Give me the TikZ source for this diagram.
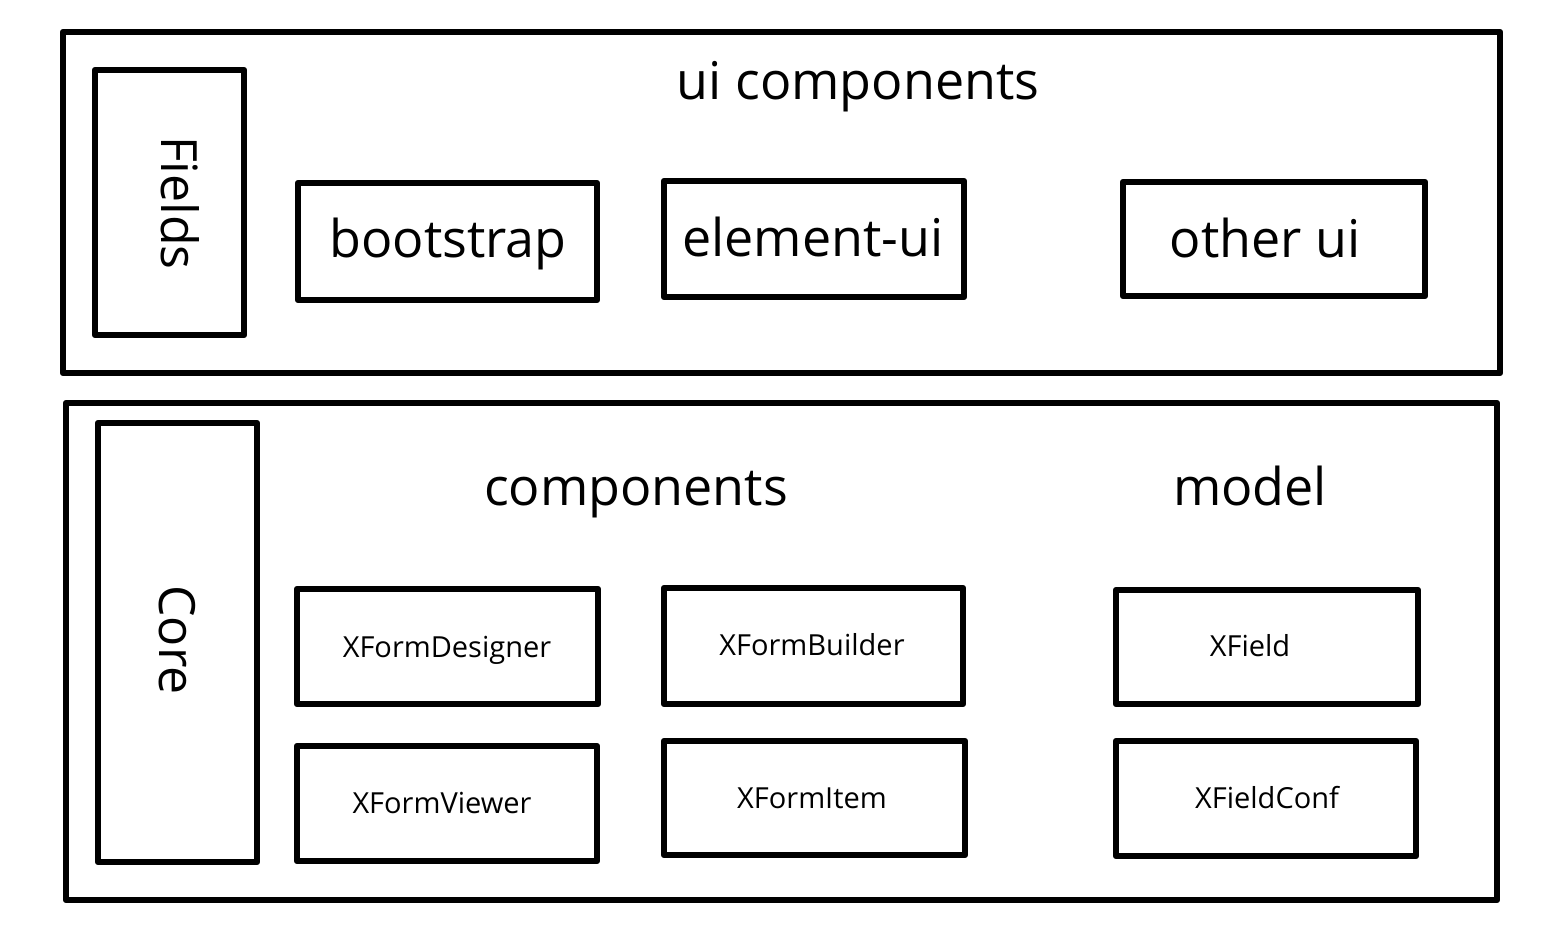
\documentclass[tikz,border=0pt]{standalone}
\usepackage{fontspec}
\setmainfont{Open Sans}
\begin{document}
\begin{tikzpicture}[x=1pt,y=-1pt,
  frame/.style={draw=black,line width=6.5pt,line join=round,line cap=round},
  big/.style={font=\fontsize{52}{60}\selectfont,inner sep=0pt,anchor=base},
  bigrot/.style={font=\fontsize{50}{60}\selectfont,inner sep=0pt,rotate=-90},
  small/.style={font=\fontsize{29}{34}\selectfont,inner sep=0pt,anchor=base}]
\useasboundingbox[fill=white] (0,0) rectangle (1565,927);
% top layer
\draw[frame] (63,32) rectangle (1500,373);
\node[big] (uititle) at (858,99) {ui components};
\draw[frame] (95,70) rectangle (244,335);
\node[bigrot] (fields) at (180,203) {Fields};
\draw[frame] (298,183) rectangle (597,300);
\node[big] (bootstrap) at (448,257) {bootstrap};
\draw[frame] (664,181) rectangle (964,297);
\node[big] (elementui) at (813,256) {element-ui};
\draw[frame] (1123,182) rectangle (1425,296);
\node[big] (otherui) at (1265,257) {other ui};
% core layer
\draw[frame] (66,403) rectangle (1497,900);
\draw[frame] (98,423) rectangle (257,862);
\node[bigrot] (core) at (177,640) {Core};
\node[big] (components) at (636,505) {components};
\node[big] (model) at (1250,505) {model};
\draw[frame] (297,589) rectangle (598,704);
\node[small] (designer) at (447,657) {XFormDesigner};
\draw[frame] (664,588) rectangle (963,704);
\node[small] (builder) at (812,655) {XFormBuilder};
\draw[frame] (1116,590) rectangle (1418,704);
\node[small] (xfield) at (1250,656) {XField};
\draw[frame] (297,746) rectangle (597,861);
\node[small] (viewer) at (442,813) {XFormViewer};
\draw[frame] (664,741) rectangle (965,855);
\node[small] (item) at (812,808) {XFormItem};
\draw[frame] (1116,741) rectangle (1416,856);
\node[small] (conf) at (1267,808) {XFieldConf};
\end{tikzpicture}
\end{document}
